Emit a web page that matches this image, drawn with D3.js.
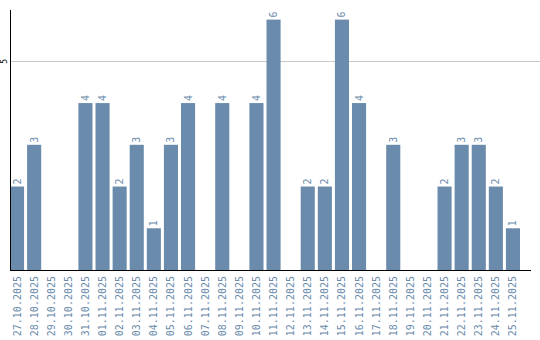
<!DOCTYPE html>
<html>
<head>
<meta charset="utf-8">
<script src="https://cdn.jsdelivr.net/npm/d3@7"></script>
<style>
  body { margin: 0; background: #fff; }
  svg text { font-family: "DejaVu Sans Mono", monospace; }
</style>
</head>
<body>
<div id="chart"></div>
<script>
var days = ["27.10.2025","28.10.2025","29.10.2025","30.10.2025","31.10.2025","01.11.2025",
  "02.11.2025","03.11.2025","04.11.2025","05.11.2025","06.11.2025","07.11.2025","08.11.2025",
  "09.11.2025","10.11.2025","11.11.2025","12.11.2025","13.11.2025","14.11.2025","15.11.2025",
  "16.11.2025","17.11.2025","18.11.2025","19.11.2025","20.11.2025","21.11.2025","22.11.2025",
  "23.11.2025","24.11.2025","25.11.2025"]
var counts = [2,3,0,0,4,4,2,3,1,3,4,0,4,0,4,6,0,2,2,6,4,0,3,0,0,2,3,3,2,1]
var yTicks = [5]

var w = 540, h = 340
var padL = 10, padT = 10, base = 270
var barColour = "#6a8bab"

var svg = d3.select("#chart")
	.append("svg")
	.attr("width", w)
	.attr("height", h)

var x = d3.scaleBand()
	.domain(days)
	.range([padL, padL + days.length * 17])
	.paddingInner(3/17)
	.paddingOuter(0)
	.align(0)

var y = d3.scaleLinear()
	.domain([0, 6.23])
	.range([base, padT])

// grid line at 5
svg.selectAll(".grid")
	.data(yTicks)
	.enter()
	.append("line")
	.attr("class", "grid")
	.attr("x1", padL)
	.attr("x2", w)
	.attr("y1", function(d){return Math.round(y(d)) + 0.5})
	.attr("y2", function(d){return Math.round(y(d)) + 0.5})
	.attr("stroke", "#c8c8c8")
	.attr("stroke-width", 1)

// bars
svg.selectAll(".bar")
	.data(counts)
	.enter()
	.append("rect")
	.attr("class", "bar")
	.attr("x", function(d,i){return x(days[i])})
	.attr("width", x.bandwidth())
	.attr("y", function(d){return y(d)})
	.attr("height", function(d){return base - y(d)})
	.attr("fill", barColour)

// value labels above bars (skip the empty days)
counts.forEach(function(d, i){
	if (d <= 0) return
	var cx = x(days[i]) + x.bandwidth()/2
	svg.append("text")
		.attr("class", "val")
		.attr("transform", "translate(" + (cx + 3.5) + "," + (y(d) - 2) + ") rotate(-90)")
		.attr("text-anchor", "start")
		.attr("font-size", "10px")
		.attr("fill", barColour)
		.text(d)
})

// x axis labels
var xAxis = d3.axisBottom(x).tickSize(0).tickPadding(0)
var gx = svg.append("g")
	.attr("transform", "translate(0," + base + ")")
	.call(xAxis)
gx.select(".domain").remove()
gx.selectAll("text")
	.attr("transform", "translate(3.5,6) rotate(-90)")
	.attr("text-anchor", "end")
	.attr("dy", 0)
	.attr("y", 0)
	.attr("x", 0)
	.attr("font-size", "10px")
	.attr("font-family", "DejaVu Sans Mono, monospace")
	.attr("fill", barColour)

// y axis: only the tick label, rotated
svg.selectAll(".ylab")
	.data(yTicks)
	.enter()
	.append("text")
	.attr("class", "ylab")
	.attr("transform", function(d){return "translate(7," + y(d) + ") rotate(-90)"})
	.attr("text-anchor", "middle")
	.attr("font-size", "8px")
	.attr("fill", "#000")
	.text(function(d){return d})

// axis lines
svg.append("line")
	.attr("x1", padL + 0.5).attr("x2", padL + 0.5)
	.attr("y1", padT).attr("y2", base)
	.attr("stroke", "#000")
svg.append("line")
	.attr("x1", padL).attr("x2", 531)
	.attr("y1", base + 0.5).attr("y2", base + 0.5)
	.attr("stroke", "#000")
</script>
</body>
</html>
